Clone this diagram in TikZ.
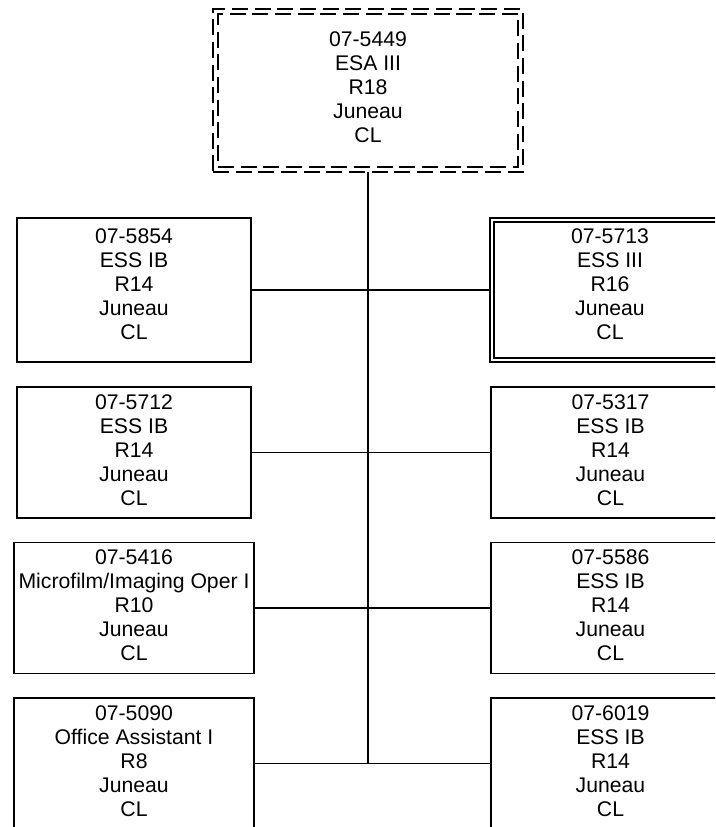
\documentclass[tikz,border=0pt]{standalone}
\usepackage{fontspec}
\setmainfont{Liberation Sans}
\begin{document}
\begin{tikzpicture}[x=0.75pt,y=-0.75pt,
  box/.style={draw, line width=1.1pt, rectangle, inner sep=0pt, outer sep=0pt},
  txt/.style={align=center, font=\fontsize{15.9pt}{18pt}\selectfont, inner sep=0pt},
  conn/.style={line width=0.8pt},
  dbox/.style={box, dash pattern=on 12pt off 5pt}]
\useasboundingbox (0,0) rectangle (715,827);
\clip (0,0) rectangle (715,827);
% top dashed double box
\node[dbox, minimum width=232.5pt, minimum height=122.25pt] (top) at (368,90.5) {};
\node[dbox, minimum width=225pt, minimum height=114.75pt] (topin) at (368,90.5) {};
\node[txt] (topt) at ([yshift=2.5pt]top.center) {07-5449\\ESA III\\R18\\Juneau\\CL};
% left column
\node[box, minimum width=175.5pt, minimum height=108pt] (l1) at (134,290) {};
\node[txt] (l1t) at ([yshift=4pt]l1.center) {07-5854\\ESS IB\\R14\\Juneau\\CL};
\node[box, minimum width=175.5pt, minimum height=98.25pt] (l2) at (134,452.5) {};
\node[txt] (l2t) at ([yshift=1.5pt]l2.center) {07-5712\\ESS IB\\R14\\Juneau\\CL};
\node[box, minimum width=180pt, minimum height=98.25pt] (l3) at (134,608) {};
\node[txt] (l3t) at ([yshift=2pt]l3.center) {07-5416\\Microfilm/Imaging Oper I\\R10\\Juneau\\CL};
\node[box, minimum width=180pt, minimum height=98.25pt] (l4) at (134,763.5) {};
\node[txt] (l4t) at ([yshift=2pt]l4.center) {07-5090\\Office Assistant I\\R8\\Juneau\\CL};
% right column
\node[box, line width=0.9pt, minimum width=180pt, minimum height=108pt] (r1) at (610,290) {};
\node[box, line width=0.9pt, minimum width=174pt, minimum height=102pt] (r1in) at (610,290) {};
\node[txt] (r1t) at ([yshift=4pt]r1.center) {07-5713\\ESS III\\R16\\Juneau\\CL};
\node[box, minimum width=179.25pt, minimum height=98.25pt] (r2) at (610.5,452.5) {};
\node[txt] (r2t) at ([yshift=1.5pt]r2.center) {07-5317\\ESS IB\\R14\\Juneau\\CL};
\node[box, minimum width=179.25pt, minimum height=98.25pt] (r3) at (610.5,608) {};
\node[txt] (r3t) at ([yshift=2pt]r3.center) {07-5586\\ESS IB\\R14\\Juneau\\CL};
\node[box, minimum width=179.25pt, minimum height=98.25pt] (r4) at (610.5,763.5) {};
\node[txt] (r4t) at ([yshift=2pt]r4.center) {07-6019\\ESS IB\\R14\\Juneau\\CL};
% connectors
\draw[conn] (top.south) -- (top.south |- l4.east);
\draw[conn] (l1.east) -- (r1.west);
\draw[conn] (l2.east) -- (r2.west);
\draw[conn] (l3.east) -- (r3.west);
\draw[conn] (l4.east) -- (r4.west);
\end{tikzpicture}
\end{document}
